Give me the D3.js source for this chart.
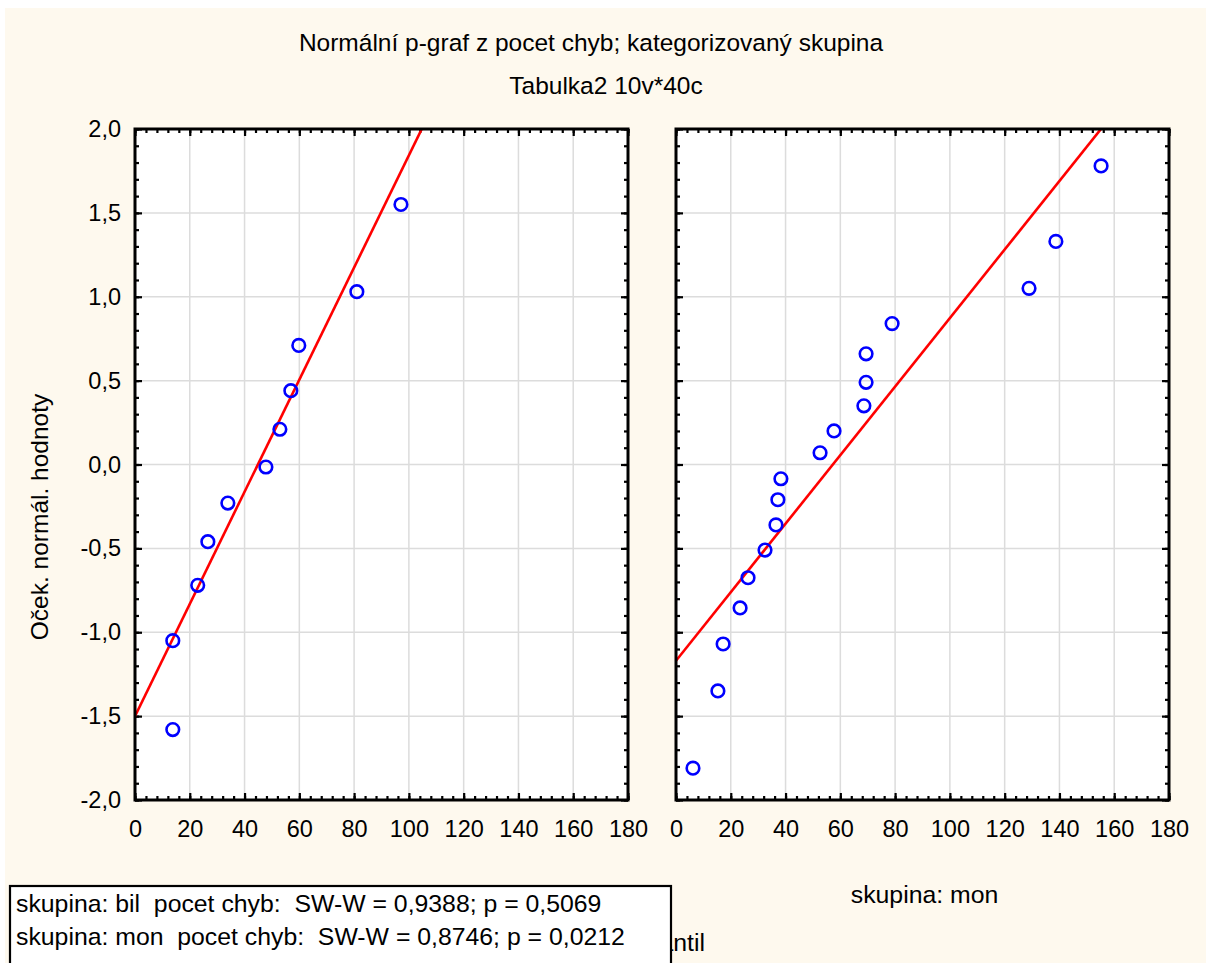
<!DOCTYPE html>
<html>
<head>
<meta charset="utf-8">
<script src="https://cdn.jsdelivr.net/npm/d3@7"></script>
<style>
  html, body { margin: 0; padding: 0; background: #ffffff; }
  svg { display: block; font-family: "Liberation Sans", Arial, sans-serif; }
  text { white-space: pre; }
</style>
</head>
<body>
<svg id="chart" width="1206" height="963"></svg>
<script>
// Normal probability plot data, one set per group of "skupina"
const groups = ["bil", "mon"];

// observed "pocet chyb" values (x) and expected normal scores (y)
const bilObserved = [13.8, 13.8, 22.9, 26.6, 33.9, 47.8, 52.9, 56.9, 59.8, 81.0, 97.1];
const bilExpected = [-1.58, -1.05, -0.72, -0.46, -0.23, -0.015, 0.21, 0.44, 0.71, 1.03, 1.55];

const monObserved = [6.2, 15.3, 17.2, 23.4, 26.3, 32.5, 36.5, 37.2, 38.3, 52.6, 57.7, 68.6, 69.4, 69.4, 78.9, 128.9, 138.7, 155.2];
const monExpected = [-1.81, -1.35, -1.07, -0.855, -0.675, -0.51, -0.36, -0.21, -0.085, 0.07, 0.20, 0.35, 0.49, 0.66, 0.84, 1.05, 1.33, 1.78];

// fitted reference line per group: expected = intercept + slope * observed
const fitIntercept = [-1.5, -1.17];
const fitSlope = [0.03343, 0.02043];

// Shapiro-Wilk results per group
const swW = ["0,9388", "0,8746"];
const swP = ["0,5069", "0,0212"];

// axis ticks
const xTicks = [0, 20, 40, 60, 80, 100, 120, 140, 160, 180];
const yTicks = [-2.0, -1.5, -1.0, -0.5, 0.0, 0.5, 1.0, 1.5, 2.0];

const chartTitle = "Normální p-graf z pocet chyb; kategorizovaný skupina";
const chartSubtitle = "Tabulka2 10v*40c";
const yTitle = "Oček. normál. hodnoty";
const xTitle = "Kvantil";
const varName = "pocet chyb";

(function draw() {
  const series = [
    { group: groups[0], xs: bilObserved, ys: bilExpected },
    { group: groups[1], xs: monObserved, ys: monExpected }
  ];

  const svg = d3.select("#chart");
  const locale = d3.formatLocale({ decimal: ",", thousands: " ", grouping: [3], currency: ["", ""], minus: "-" });
  const fmtY = locale.format(".1f");

  // page background
  svg.append("rect").attr("x", 5).attr("y", 8).attr("width", 1201).attr("height", 955).attr("fill", "#fef9ee");

  // titles
  svg.append("text").attr("x", 591).attr("y", 51).attr("text-anchor", "middle")
    .attr("font-size", 24.5).attr("fill", "#000").text(chartTitle);
  svg.append("text").attr("x", 606).attr("y", 94).attr("text-anchor", "middle")
    .attr("font-size", 24.5).attr("fill", "#000").text(chartSubtitle);

  // y axis title
  svg.append("text").attr("transform", "translate(48,517) rotate(-90)").attr("text-anchor", "middle")
    .attr("font-size", 24.5).attr("fill", "#000").text(yTitle);

  const panelLefts = [135, 676];
  const panelW = 493;
  const plotTop = 129, plotBottom = 800;

  const xMinor = d3.range(0, 180.001, 4);
  const yMinor = d3.range(-20, 20.5, 1).map(v => v / 10);

  series.forEach((s, i) => {
    const x0 = panelLefts[i];
    const x = d3.scaleLinear().domain([0, 180]).range([x0, x0 + panelW]);
    const y = d3.scaleLinear().domain([-2, 2]).range([plotBottom, plotTop]);
    const g = svg.append("g");

    // plot area
    g.append("rect").attr("x", x0).attr("y", plotTop).attr("width", panelW).attr("height", plotBottom - plotTop).attr("fill", "#fff");

    // grid
    g.append("g").selectAll("line").data(xTicks.slice(1, -1)).join("line")
      .attr("x1", d => x(d)).attr("x2", d => x(d)).attr("y1", plotTop).attr("y2", plotBottom)
      .attr("stroke", "#dcdcdc").attr("stroke-width", 1.5);
    g.append("g").selectAll("line").data(yTicks.slice(1, -1)).join("line")
      .attr("y1", d => y(d)).attr("y2", d => y(d)).attr("x1", x0).attr("x2", x0 + panelW)
      .attr("stroke", "#dcdcdc").attr("stroke-width", 1.5);

    // inward tick marks on all four sides
    const tickGroups = [
      [() => d3.axisBottom(x), `translate(0,${plotBottom})`],
      [() => d3.axisTop(x), `translate(0,${plotTop})`],
      [() => d3.axisLeft(y), `translate(${x0},0)`],
      [() => d3.axisRight(y), `translate(${x0 + panelW},0)`]
    ];
    tickGroups.forEach(([mk, tr], k) => {
      const minor = k < 2 ? xMinor : yMinor;
      const major = k < 2 ? xTicks : yTicks;
      g.append("g").attr("transform", tr)
        .call(mk().tickValues(minor).tickSize(-4).tickFormat(""))
        .call(a => { a.select(".domain").remove(); a.selectAll("line").attr("stroke", "#000").attr("stroke-width", 2.2); });
      g.append("g").attr("transform", tr)
        .call(mk().tickValues(major).tickSize(-7).tickFormat(""))
        .call(a => { a.select(".domain").remove(); a.selectAll("line").attr("stroke", "#000").attr("stroke-width", 2.2); });
    });

    // x tick labels
    g.append("g").attr("transform", `translate(0,${plotBottom})`)
      .call(d3.axisBottom(x).tickValues(xTicks).tickSize(0).tickPadding(0).tickFormat(d3.format("d")))
      .call(a => {
        a.select(".domain").remove();
        a.selectAll("text").attr("font-size", 23.5).attr("font-family", "Liberation Sans, Arial, sans-serif")
          .attr("fill", "#000").attr("dy", null).attr("y", 37);
      });

    // y tick labels on the first panel only
    if (i === 0) {
      g.append("g").attr("transform", `translate(${x0},0)`)
        .call(d3.axisLeft(y).tickValues(yTicks).tickSize(0).tickPadding(14).tickFormat(fmtY))
        .call(a => {
          a.select(".domain").remove();
          a.selectAll("text").attr("font-size", 23.5).attr("font-family", "Liberation Sans, Arial, sans-serif")
            .attr("fill", "#000");
        });
    }

    // fitted line, clipped to the plot area
    const clipId = "clip-" + s.group;
    svg.append("clipPath").attr("id", clipId).append("rect")
      .attr("x", x0).attr("y", plotTop).attr("width", panelW).attr("height", plotBottom - plotTop);
    const lineEnds = [0, 180].map(v => [v, fitIntercept[i] + fitSlope[i] * v]);
    g.append("path").attr("clip-path", `url(#${clipId})`)
      .attr("d", d3.line().x(d => x(d[0])).y(d => y(d[1]))(lineEnds))
      .attr("fill", "none").attr("stroke", "#ff0000").attr("stroke-width", 2.6);

    // observations
    g.append("g").selectAll("circle").data(s.xs.map((v, k) => [v, s.ys[k]])).join("circle")
      .attr("cx", d => x(d[0])).attr("cy", d => y(d[1])).attr("r", 6.3)
      .attr("fill", "none").attr("stroke", "#0000ff").attr("stroke-width", 2.6);

    // frame
    g.append("rect").attr("x", x0).attr("y", plotTop).attr("width", panelW).attr("height", plotBottom - plotTop)
      .attr("fill", "none").attr("stroke", "#000").attr("stroke-width", 3);

    // group label under the panel
    svg.append("text").attr("x", x0 + panelW / 2 + 2).attr("y", 903).attr("text-anchor", "middle")
      .attr("font-size", 24.8).attr("fill", "#000").text("skupina: " + s.group);
  });

  // x axis title
  svg.append("text").attr("x", 705).attr("y", 951).attr("text-anchor", "end")
    .attr("font-size", 24.8).attr("fill", "#000").text(xTitle);

  // Shapiro-Wilk summary box
  const box = svg.append("g");
  box.append("rect").attr("x", 10).attr("y", 886).attr("width", 661).attr("height", 100)
    .attr("fill", "#fff").attr("stroke", "#000").attr("stroke-width", 2.2);
  groups.forEach((gname, i) => {
    box.append("text").attr("x", 16).attr("y", 912 + i * 33)
      .attr("font-size", 24.8).attr("fill", "#000").attr("xml:space", "preserve")
      .text(`skupina: ${gname}  ${varName}:  SW-W = ${swW[i]}; p = ${swP[i]}`);
  });
})();
</script>
</body>
</html>
